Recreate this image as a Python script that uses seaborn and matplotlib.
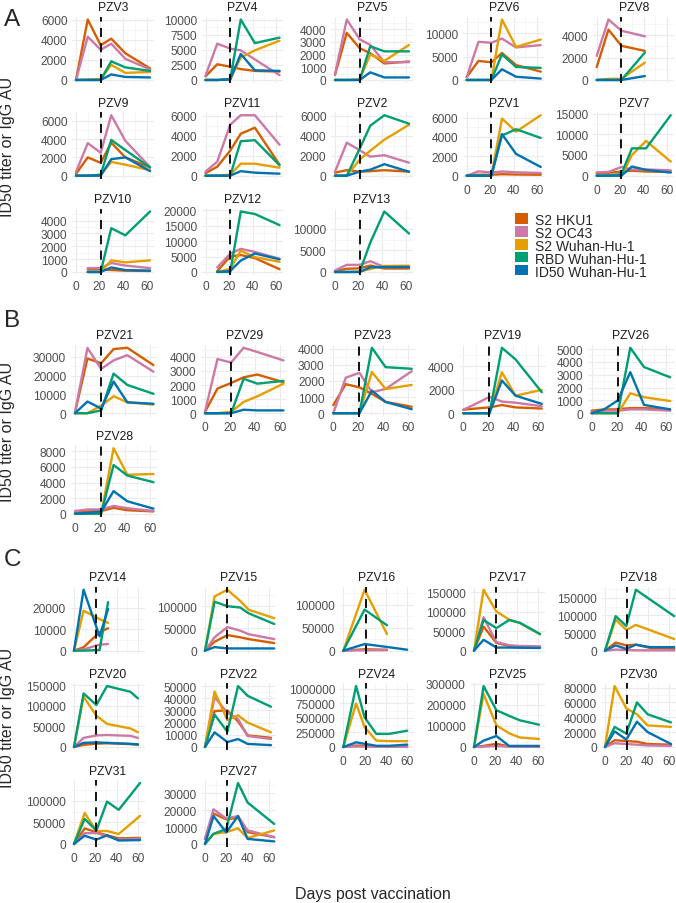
import numpy as np
import pandas as pd
import matplotlib
matplotlib.use("Agg")
import matplotlib.pyplot as plt
from matplotlib.ticker import MultipleLocator, FormatStrFormatter
from matplotlib.patches import Rectangle
import seaborn as sns

nan = np.nan

series = ["S2 HKU1", "S2 OC43", "S2 Wuhan-Hu-1", "RBD Wuhan-Hu-1", "ID50 Wuhan-Hu-1"]
colors = ["#D55E00", "#CC79A7", "#E69F00", "#009E73", "#0072B2"]

days_a = [0, 10, 21, 30, 42, 63]
days_b = [0, 10, 21, 31, 42, 63]
days_c = [0, 9, 21, 31, 42, 63]

# each donor: sampling days, then one row per series (HKU1, OC43, S2 Wuhan, RBD, ID50)
pzv3 = [days_a,
        [0, 6000, 3450, 4100, 2650, 1150],
        [0, 4300, 3000, 3600, 2100, 1050],
        [0, 50, 100, 1500, 700, 800],
        [0, 0, 0, 1850, 1250, 900],
        [0, 0, 0, 550, 300, 250]]
pzv4 = [days_a,
        [600, 2600, 2200, 1800, 1500, 1400],
        [700, 6000, 5200, 4900, 3400, 800],
        [0, 0, 100, 3700, 4900, 6500],
        [0, 0, 100, 10000, 6100, 7000],
        [0, 0, 100, 4300, 1600, 1500]]
pzv5 = [days_a,
        [400, 3700, 2500, 2100, 1300, 1450],
        [450, 4750, 3200, 2750, 1400, 1400],
        [0, 0, 50, 2000, 1500, 2750],
        [0, 0, 0, 2650, 2250, 2250],
        [0, 0, 0, 600, 200, 200]]
pzv6 = [days_a,
        [600, 4100, 3800, 5800, 3200, 1800],
        [600, 8200, 8000, 8900, 7000, 7500],
        [0, 0, 0, 13000, 7100, 8700],
        [0, 0, 0, 5500, 2800, 2600],
        [0, 0, 0, 2300, 700, 300]]
pzv8 = [[0, 10, 21, 41],
        [1150, 4500, 3050, 2600],
        [2150, 5400, 4400, 3900],
        [0, 100, 100, 1550],
        [0, 0, 0, 2450],
        [0, 0, 0, 350]]
pzv9 = [days_a,
        [200, 2000, 1400, 3600, 2000, 900],
        [400, 3550, 2500, 6600, 3800, 950],
        [0, 0, 100, 1500, 1200, 600],
        [0, 0, 100, 3900, 2800, 900],
        [0, 0, 0, 1800, 2000, 500]]
pzv11 = [days_a,
         [250, 900, 2500, 4200, 4800, 1100],
         [400, 1400, 5100, 6050, 6050, 3100],
         [0, 0, 100, 1200, 1200, 800],
         [0, 0, 0, 3450, 3550, 1050],
         [0, 0, 0, 450, 300, 200]]
pzv2 = [days_a,
        [300, 550, 400, 450, 550, 400],
        [400, 3300, 2550, 1900, 2050, 1300],
        [0, 0, 1600, 2500, 3600, 5100],
        [0, 0, 2700, 5000, 6050, 5200],
        [0, 0, 400, 600, 1150, 400]]
pzv1 = [days_a,
        [0, 100, 100, 150, 120, 100],
        [0, 450, 330, 430, 350, 280],
        [0, 0, 0, 5900, 4550, 6250],
        [0, 0, 0, 4150, 4800, 3900],
        [0, 0, 0, 4300, 2250, 900]]
pzv7 = [days_a,
        [600, 700, 1000, 1200, 1000, 900],
        [800, 900, 2100, 1500, 1500, 1300],
        [0, 0, 0, 5000, 8400, 3400],
        [0, 0, 400, 6600, 6600, 14600],
        [0, 0, 0, 2200, 1400, 750]]
pzv10 = [[10, 21, 30, 42, 63],
         [200, 200, 150, 100, 80],
         [300, 300, 700, 500, 300],
         [0, 0, 900, 750, 900],
         [0, 0, 3400, 2850, 4700],
         [0, 0, 350, 150, 100]]
pzv12 = [[10, 21, 30, 42, 63],
         [300, 5000, 5500, 4500, 900],
         [1500, 5900, 7500, 6500, 4300],
         [0, 1000, 6900, 4800, 3300],
         [0, 0, 19600, 18800, 15200],
         [0, 300, 3700, 6000, 4100]]
pzv13 = [days_a,
         [150, 750, 850, 1500, 800, 800],
         [350, 1650, 1650, 2500, 1150, 1150],
         [0, 0, 100, 700, 1400, 1450],
         [0, 0, 0, 6800, 14000, 8900],
         [0, 0, 0, 1100, 1150, 1150]]

pzv21 = [days_b,
         [500, 29000, 26500, 34000, 34700, 25500],
         [500, 34600, 23500, 28000, 30800, 22000],
         [0, 0, 4000, 9000, 5800, 4600],
         [0, 0, 1500, 21000, 15000, 10300],
         [0, 6200, 2500, 16800, 5800, 5000]]
pzv29 = [days_b,
         [100, 1750, 2150, 2550, 2750, 2200],
         [100, 3850, 3600, 4650, 4350, 3750],
         [0, 0, 100, 800, 1200, 2100],
         [0, 0, 0, 2450, 2100, 2300],
         [0, 0, 0, 250, 200, 200]]
pzv23 = [days_b,
         [500, 1800, 1600, 1200, 700, 400],
         [0, 2200, 2500, 1300, 1500, 2600],
         [0, 0, 0, 2550, 1500, 1750],
         [0, 0, 0, 4050, 2850, 2750],
         [0, 0, 0, 1400, 700, 250]]
pzv19 = [days_b,
         [300, 400, 500, 700, 500, 400],
         [300, 800, 1400, 1000, 900, 600],
         [0, 0, 0, 3500, 1500, 2000],
         [0, 0, 0, 5600, 4600, 1800],
         [0, 0, 0, 2800, 1500, 800]]
pzv26 = [days_b,
         [200, 300, 300, 400, 400, 300],
         [100, 200, 200, 300, 300, 200],
         [0, 0, 0, 1550, 1250, 950],
         [0, 0, 0, 5100, 3600, 2800],
         [0, 300, 1000, 3200, 650, 300]]
pzv28 = [days_b,
         [150, 300, 350, 750, 450, 300],
         [350, 550, 550, 1000, 700, 350],
         [0, 0, 0, 8400, 5000, 5100],
         [0, 0, 0, 6250, 4900, 4050],
         [0, 100, 250, 2900, 1600, 650]]

pzv14 = [[0, 9, 24, 32],
         [0, 1600, 8600, 10500],
         [0, 600, 2800, 3100],
         [0, 18700, 14800, 13000],
         [0, 0, 300, 22700],
         [0, 28500, 6700, 19500]]
pzv15 = [[0, 9, 21, 33, 41, 65],
         [0, 20000, 35000, 30000, 26000, 17000],
         [0, 30000, 53000, 45000, 37000, 26000],
         [0, 122000, 137000, 112000, 92000, 73000],
         [0, 110000, 100000, 97000, 84000, 60000],
         [0, 8000, 5000, 5000, 5000, 5000]]
pzv16 = [[0, 20, 41, 60],
         [0, 3000, 2000, nan],
         [0, 1000, 1000, nan],
         [0, 132000, 36000, nan],
         [0, 89000, 55000, nan],
         [0, 14300, 8000, 2000]]
pzv17 = [[0, 9, 21, 33, 43, 62],
         [0, 62000, 20000, 12000, 10000, 9000],
         [0, 86000, 22000, 14000, 12000, 11000],
         [0, 157000, 101000, 80000, 71000, 42000],
         [0, 79000, 58000, 79000, 72000, 43000],
         [0, 28000, 8000, 8000, 7500, 7000]]
pzv18 = [[0, 10, 20, 29, 42, 65],
         [0, 23000, 15000, 17000, 8000, 5000],
         [0, 3000, 2000, 1000, 1000, 1000],
         [0, 88000, 59000, 73000, nan, 33000],
         [0, 98000, 70000, 173000, nan, 98000],
         [0, 15000, 5000, 17000, 10000, 10000]]
pzv20 = [[0, 9, 21, 31, 53, 60],
         [0, 5000, 8000, 9000, 7000, 5000],
         [0, 22000, 28000, 29000, 27000, 22000],
         [0, 122000, 76000, 56000, 45000, 36000],
         [0, 130000, 102000, 148000, 134000, 118000],
         [0, 10000, 11000, 10000, 7500, 6500]]
pzv22 = [[0, 9, 21, 31, 40, 62],
         [0, 29500, 30000, 21000, 9500, 7500],
         [0, 41000, 28000, 23000, 9000, 6500],
         [0, 45500, 22000, 26000, 20000, 12000],
         [0, 26500, 12500, 50000, 42000, 33000],
         [0, 12000, 4000, 6500, 2500, 1500]]
pzv24 = [[0, 12, 20, 31, 43, 60],
         [0, 25000, 20000, 10000, 8000, 10000],
         [0, 8000, 8000, 5000, 5000, 5000],
         [0, 750000, 340000, 110000, 100000, 100000],
         [0, 1050000, 510000, 225000, 225000, 280000],
         [0, 80000, 55000, 20000, 20000, 40000]]
pzv25 = [[0, 9, 21, 33, 43, 61],
         [0, 5000, 15000, 3000, 2000, 2000],
         [0, 2000, 5000, 1000, 1000, 1000],
         [0, 252000, 103000, 65000, 45000, 38000],
         [0, 290000, 175000, 148000, 127000, 106000],
         [0, 30000, 52000, 5000, 5000, 5000]]
pzv30 = [[0, 9, 20, 30, 40, 62],
         [0, 9000, 8000, 7000, 4000, 3000],
         [0, 5000, 4000, 3000, 2000, 1500],
         [0, 82000, 52000, 44000, 29000, 27000],
         [0, 27000, 18000, 60000, 44000, 33000],
         [0, 21000, 10000, 34000, 20000, 4000]]
pzv31 = [[0, 10, 21, 31, 42, 62],
         [0, 36000, 27000, 20000, 13000, 14000],
         [0, 25000, 25000, 18000, 10000, 12000],
         [0, 72000, 30000, 30000, 23000, 65000],
         [0, 58000, 31000, 98000, 79000, 141000],
         [0, 19000, 10000, 20000, 8000, 9000]]
pzv27 = [[0, 8, 20, 31, 40, 65],
         [3000, 18000, 14500, 15500, 7000, 4000],
         [3000, 20500, 15000, 16500, 8000, 4000],
         [0, 5900, 7000, 9200, 3500, 8000],
         [0, 6000, 8800, 36000, 24500, 11800],
         [0, 16500, 6800, 16500, 3000, 1500]]

profiles = {"PZV3": pzv3, "PZV4": pzv4, "PZV5": pzv5, "PZV6": pzv6, "PZV8": pzv8,
            "PZV9": pzv9, "PZV11": pzv11, "PZV2": pzv2, "PZV1": pzv1, "PZV7": pzv7,
            "PZV10": pzv10, "PZV12": pzv12, "PZV13": pzv13,
            "PZV21": pzv21, "PZV29": pzv29, "PZV23": pzv23, "PZV19": pzv19, "PZV26": pzv26,
            "PZV28": pzv28,
            "PZV14": pzv14, "PZV15": pzv15, "PZV16": pzv16, "PZV17": pzv17, "PZV18": pzv18,
            "PZV20": pzv20, "PZV22": pzv22, "PZV24": pzv24, "PZV25": pzv25, "PZV30": pzv30,
            "PZV31": pzv31, "PZV27": pzv27}

# y tick step of each panel
ystep = {"PZV3": 2000, "PZV4": 2500, "PZV5": 1000, "PZV6": 5000, "PZV8": 2000,
         "PZV9": 2000, "PZV11": 2000, "PZV2": 2000, "PZV1": 2000, "PZV7": 5000,
         "PZV10": 1000, "PZV12": 5000, "PZV13": 5000,
         "PZV21": 10000, "PZV29": 1000, "PZV23": 1000, "PZV19": 2000, "PZV26": 1000,
         "PZV28": 2000,
         "PZV14": 10000, "PZV15": 50000, "PZV16": 50000, "PZV17": 50000, "PZV18": 50000,
         "PZV20": 50000, "PZV22": 10000, "PZV24": 250000, "PZV25": 100000, "PZV30": 20000,
         "PZV31": 50000, "PZV27": 10000}

group_a = ["PZV3", "PZV4", "PZV5", "PZV6", "PZV8", "PZV9", "PZV11", "PZV2", "PZV1",
           "PZV7", "PZV10", "PZV12", "PZV13"]
group_b = ["PZV21", "PZV29", "PZV23", "PZV19", "PZV26", "PZV28"]
group_c = ["PZV14", "PZV15", "PZV16", "PZV17", "PZV18", "PZV20", "PZV22", "PZV24",
           "PZV25", "PZV30", "PZV31", "PZV27"]
boost_day = 21

sns.set_style("white")
plt.rcParams["font.family"] = ["Liberation Sans", "DejaVu Sans"]

W, H = 676, 904
fig = plt.figure(figsize=(W / 100, H / 100), dpi=100)

XLO, XHI = -3.2, 66.2

# layout in pixels: x of day 0 per column, pixels per day, row tops, panel height
sections = [
    dict(names=group_a, letter="A", x0=[76, 205.5, 335, 466.7, 596.7], ppd=1.175,
         tops=[17.5, 113.2, 209.5], h=66.5, letter_base=26),
    dict(names=group_b, letter="B", x0=[75, 205, 333.3, 463.3, 591.7], ppd=1.245,
         tops=[345.5, 446], h=72, letter_base=327),
    dict(names=group_c, letter="C", x0=[74, 205, 343.3, 474, 605], ppd=1.065,
         tops=[587.7, 684, 781], h=67, letter_base=566),
]


def long_table(name):
    prof = profiles[name]
    days = prof[0]
    rows = []
    for s, vals in zip(series, prof[1:]):
        for d, v in zip(days, vals):
            if not np.isnan(v):
                rows.append({"day": d, "value": v, "series": s})
    return pd.DataFrame(rows)


for sec in sections:
    names = sec["names"]
    n = len(names)
    for i, name in enumerate(names):
        row, col = divmod(i, 5)
        left = sec["x0"][col] + XLO * sec["ppd"]
        width = (XHI - XLO) * sec["ppd"]
        top = sec["tops"][row]
        ax = fig.add_axes([left / W, 1 - (top + sec["h"]) / H, width / W, sec["h"] / H])

        sns.lineplot(data=long_table(name), x="day", y="value", hue="series",
                     hue_order=series, palette=colors, ax=ax, legend=False,
                     linewidth=1.7, errorbar=None)
        ax.axvline(boost_day, color="black", lw=1.3, ls=(0, (5, 3.5)), zorder=5)

        ax.set_xlim(XLO, XHI)
        ax.margins(y=0.05)
        ax.xaxis.set_major_locator(MultipleLocator(20))
        ax.xaxis.set_minor_locator(MultipleLocator(10))
        ax.yaxis.set_major_locator(MultipleLocator(ystep[name]))
        ax.yaxis.set_minor_locator(MultipleLocator(ystep[name] / 2))
        ax.yaxis.set_major_formatter(FormatStrFormatter("%d"))
        ax.grid(which="major", color="#EBEBEB", lw=0.8)
        ax.grid(which="minor", color="#F3F3F3", lw=0.5)
        ax.set_axisbelow(True)
        for sp in ax.spines.values():
            sp.set_visible(False)
        ax.tick_params(which="both", length=0, labelsize=8.6, labelcolor="#4D4D4D", pad=3.5)
        ax.set_xlabel("")
        ax.set_ylabel("")
        ax.set_title(name, fontsize=8.7, color="#1A1A1A", pad=4.5)

        # x tick labels only under the lowest panel of each column
        if i + 5 < n:
            ax.tick_params(axis="x", labelbottom=False)

    fig.text(4 / W, 1 - sec["letter_base"] / H, sec["letter"], fontsize=17.5,
             ha="left", va="baseline")
    mid = sec["tops"][0] + (sec["tops"][-1] + sec["h"] - sec["tops"][0]) / 2
    fig.text(8 / W, 1 - mid / H, "ID50 titer or IgG AU", fontsize=11.5,
             rotation=90, ha="center", va="center")

fig.text(373 / W, 1 - 899.5 / H, "Days post vaccination", fontsize=11.5,
         ha="center", va="baseline")

# legend in the empty slots of section A
for k, (s, c) in enumerate(zip(series, colors)):
    yc = 219.3 + k * 12.95
    fig.patches.append(Rectangle((515 / W, 1 - (yc + 5.3) / H), 13 / W, 10.6 / H,
                                 transform=fig.transFigure, facecolor=c, edgecolor="none"))
    fig.text(535 / W, 1 - yc / H, s, fontsize=10, ha="left", va="center_baseline")

fig.savefig("out.png", dpi=100)
